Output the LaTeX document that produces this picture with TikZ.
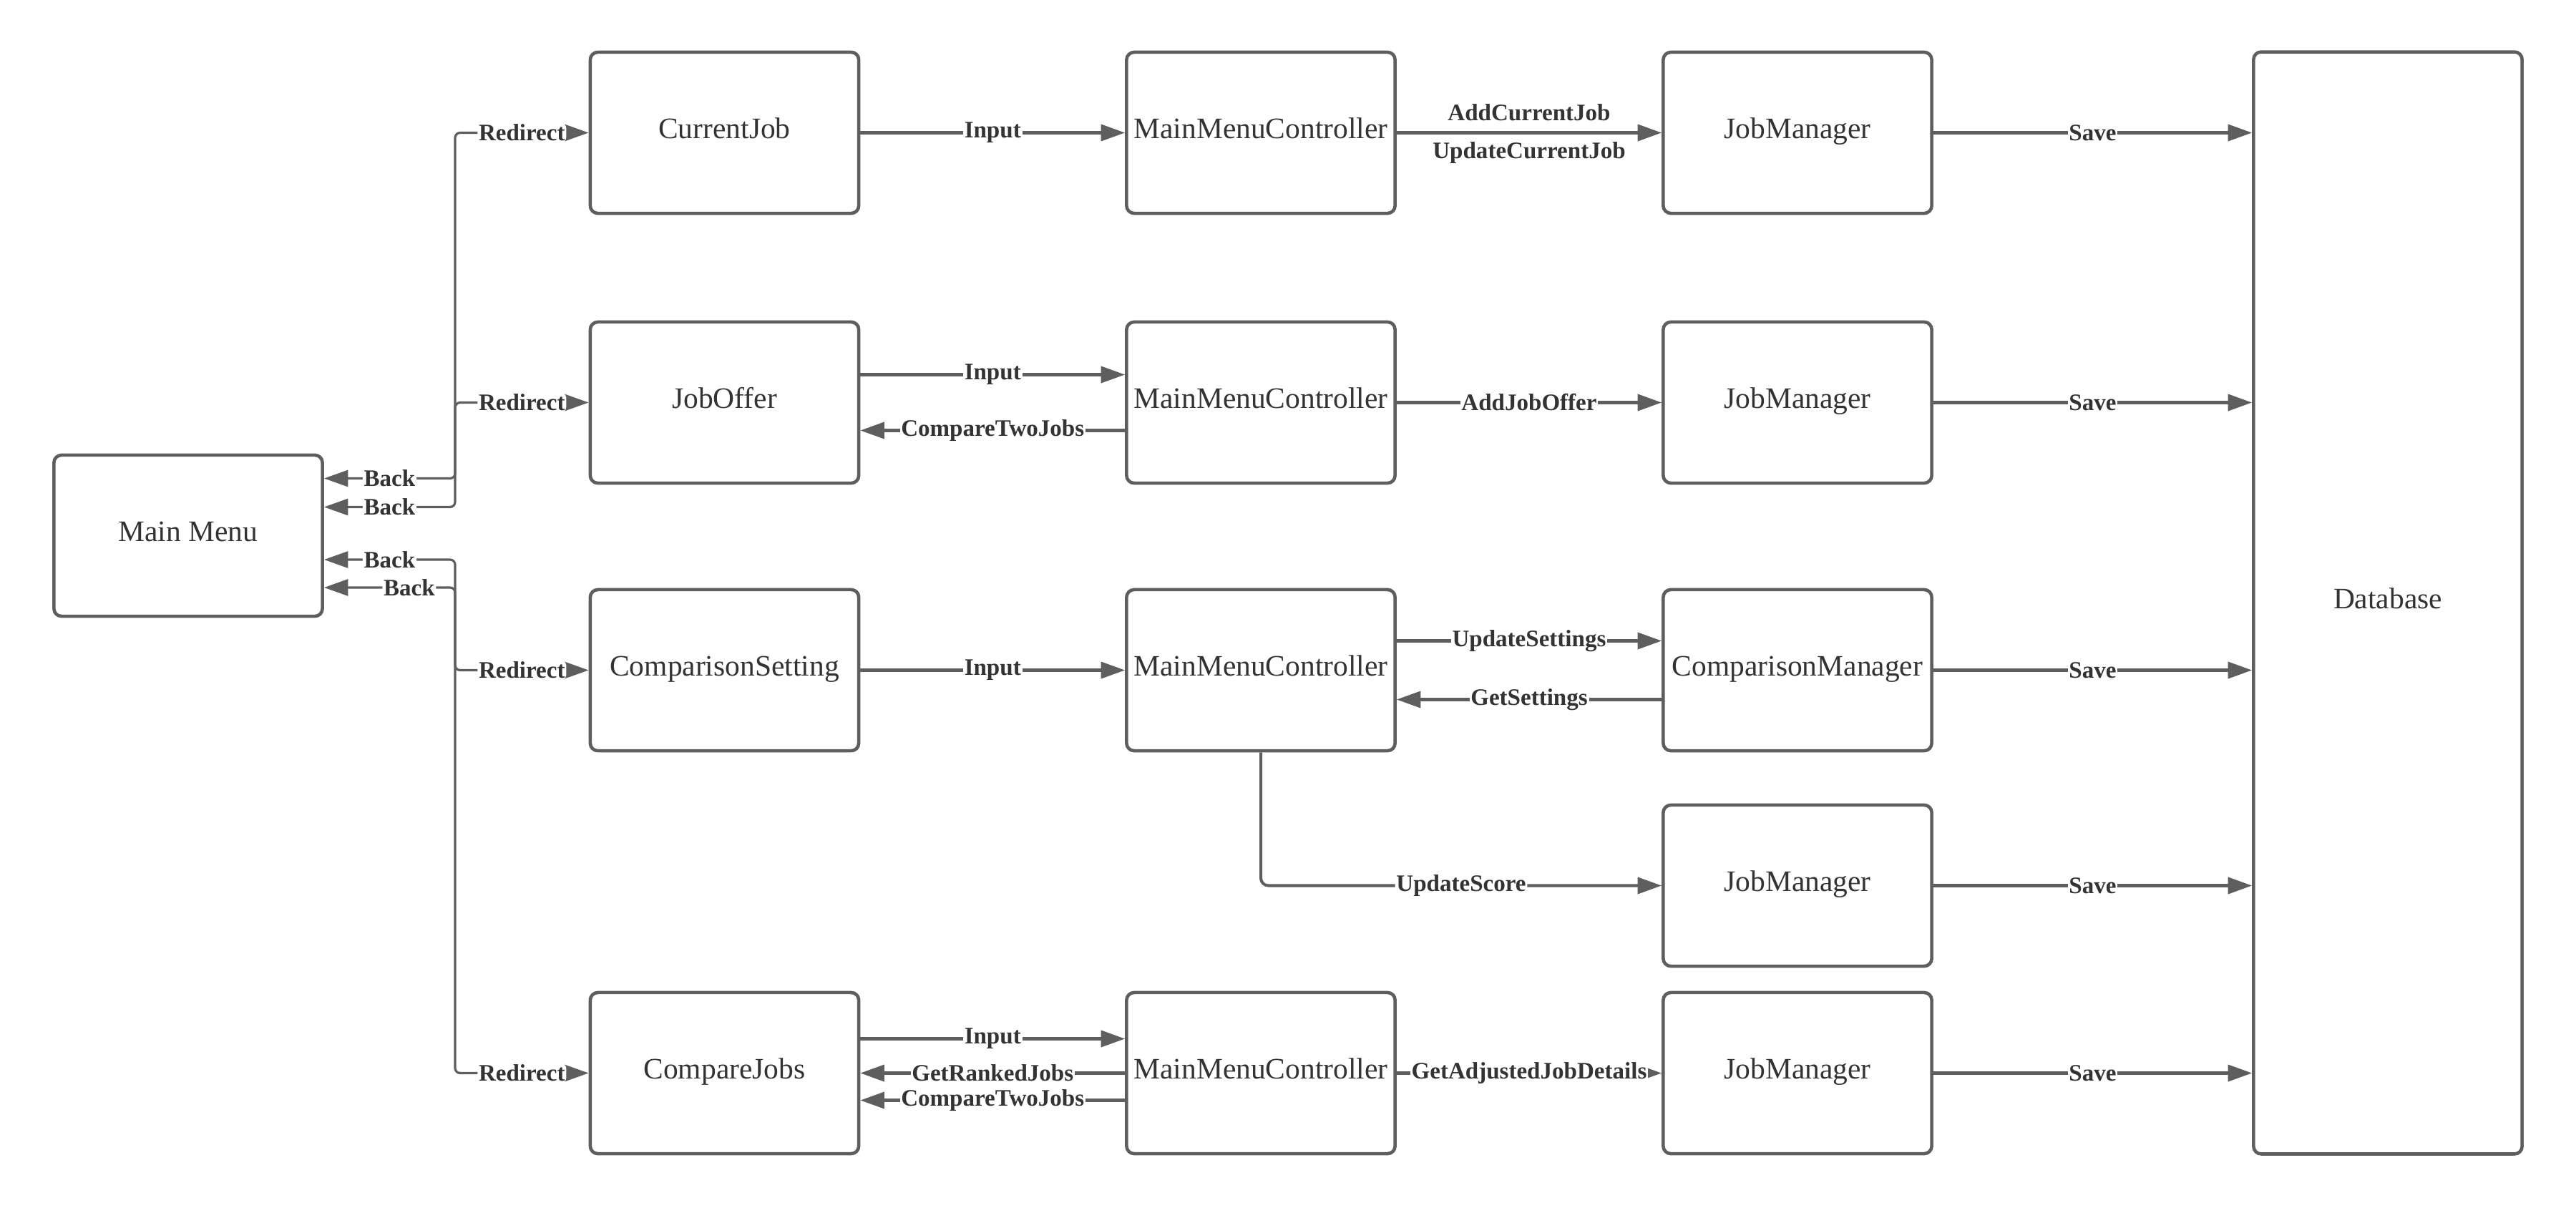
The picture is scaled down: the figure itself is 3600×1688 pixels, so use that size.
\documentclass[tikz,border=0pt]{standalone}
\usepackage{fontspec}
\setmainfont{Liberation Serif}
\usetikzlibrary{arrows.meta,calc}
\definecolor{ink}{HTML}{5E5E5E}
\definecolor{txt}{HTML}{333333}
\begin{document}
\begin{tikzpicture}[x=0.01cm,y=-0.01cm,
  box/.style={draw=ink, line width=1.3pt, rounded corners=3pt, minimum width=3.75cm,
    minimum height=2.25cm, text=txt, inner sep=0pt, text height=0.68em, text depth=0.22em,
    font=\fontsize{11.8}{14}\selectfont},
  link/.style={draw=ink, line width=1.15pt, -{Triangle[length=9.5pt,width=6.5pt]}},
  twoway/.style={draw=ink, line width=0.9pt, rounded corners=2pt,
    {Triangle[length=9.5pt,width=6.5pt]}-{Triangle[length=9.5pt,width=6.5pt]}},
  lbl/.style={fill=white, text=txt, inner sep=0.5pt, font=\fontsize{9.4}{11}\bfseries\selectfont}]

\useasboundingbox (0,0) rectangle (3600,1688);

% boxes
\node[box] (mm)  at (263,748.5)    {Main Menu};
\node[box] (cj)  at (1012.5,185.5) {CurrentJob};
\node[box] (jo)  at (1012.5,562.5) {JobOffer};
\node[box] (cs)  at (1012.5,936.5) {ComparisonSetting};
\node[box] (cmp) at (1012.5,1499.5){CompareJobs};
\node[box] (c1)  at (1762,185.5)   {MainMenuController};
\node[box] (c2)  at (1762,562.5)   {MainMenuController};
\node[box] (c3)  at (1762,936.5)   {MainMenuController};
\node[box] (c5)  at (1762,1499.5)  {MainMenuController};
\node[box] (m1)  at (2512,185.5)   {JobManager};
\node[box] (m2)  at (2512,562.5)   {JobManager};
\node[box] (m3)  at (2512,936.5)   {ComparisonManager};
\node[box] (m4)  at (2512,1237.5)  {JobManager};
\node[box] (m5)  at (2512,1499.5)  {JobManager};
\node[box, minimum height=15.39cm] (db) at (3337,842.5) {Database};

% main menu navigation
\coordinate (bus) at (636,0);
\coordinate (b1) at ($(mm.east)+(0,-80)$);
\coordinate (b2) at ($(mm.east)+(0,-40)$);
\coordinate (b3) at ($(mm.east)+(0,33.5)$);
\coordinate (b4) at ($(mm.east)+(0,72.5)$);
\draw[twoway] (b1) -- node[lbl]{Back} (b1 -| bus) |- node[lbl,pos=.75]{Redirect} (cj.west);
\draw[twoway] (b2) -- node[lbl]{Back} (b2 -| bus) |- node[lbl,pos=.75]{Redirect} (jo.west);
\draw[twoway] (b3) -- node[lbl]{Back} (b3 -| bus) |- node[lbl,pos=.75]{Redirect} (cs.west);
\draw[twoway] (b4) -- node[lbl,pos=.65]{Back} (b4 -| bus) |- node[lbl,pos=.75]{Redirect} (cmp.west);

% current job
\draw[link] (cj) -- node[lbl]{Input} (c1);
\draw[link] (c1) -- node[lbl,yshift=8pt]{AddCurrentJob} node[lbl,yshift=-8pt]{UpdateCurrentJob} (m1);
\draw[link] (m1) -- node[lbl]{Save} (m1 -| db.west);

% job offer
\draw[link] ($(jo.east)+(0,-39)$) -- node[lbl]{Input} ($(c2.west)+(0,-39)$);
\draw[link] ($(c2.west)+(0,39)$) -- node[lbl]{CompareTwoJobs} ($(jo.east)+(0,39)$);
\draw[link] (c2) -- node[lbl]{AddJobOffer} (m2);
\draw[link] (m2) -- node[lbl]{Save} (m2 -| db.west);

% comparison settings
\draw[link] (cs) -- node[lbl]{Input} (c3);
\draw[link] ($(c3.east)+(0,-41)$) -- node[lbl]{UpdateSettings} ($(m3.west)+(0,-41)$);
\draw[link] ($(m3.west)+(0,41)$) -- node[lbl]{GetSettings} ($(c3.east)+(0,41)$);
\draw[link] (m3) -- node[lbl]{Save} (m3 -| db.west);
\draw[link, rounded corners=3pt] (c3.south) |- node[lbl,pos=.75]{UpdateScore} (m4.west);
\draw[link] (m4) -- node[lbl]{Save} (m4 -| db.west);

% compare jobs
\draw[link] ($(cmp.east)+(0,-48)$) -- node[lbl]{Input} ($(c5.west)+(0,-48)$);
\draw[link] (c5) -- node[lbl]{GetRankedJobs} (cmp);
\draw[link] ($(c5.west)+(0,38)$) -- node[lbl]{CompareTwoJobs} ($(cmp.east)+(0,38)$);
\draw[link] (c5) -- node[lbl]{GetAdjustedJobDetails} (m5);
\draw[link] (m5) -- node[lbl]{Save} (m5 -| db.west);
\end{tikzpicture}
\end{document}
